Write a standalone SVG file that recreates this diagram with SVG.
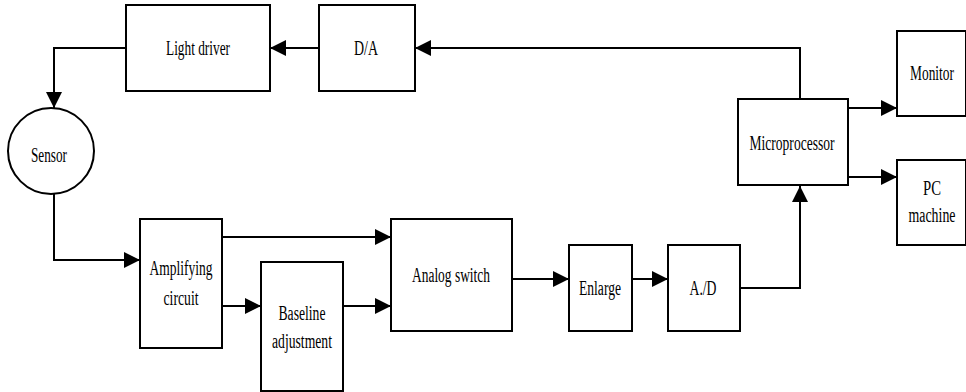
<svg xmlns="http://www.w3.org/2000/svg" width="966" height="392" viewBox="0 0 966 392">
<style>
.box{fill:#fff;stroke:#000;stroke-width:2}
.ln{fill:none;stroke:#000;stroke-width:2}
.t{font-family:'Liberation Serif','Times New Roman','DejaVu Serif',serif;font-size:20px;fill:#000;text-anchor:middle}
</style>
<defs>
<marker id="ah" markerUnits="userSpaceOnUse" markerWidth="16" markerHeight="16" refX="16" refY="8" orient="auto">
<path d="M0,0 L16,8 L0,16 z" fill="#000"/>
</marker>
</defs>
<g id="connectors">
<path class="ln" d="M800,99 V48 H415" marker-end="url(#ah)"/>
<path class="ln" d="M319,48 H270" marker-end="url(#ah)"/>
<path class="ln" d="M126,48 H54 V108" marker-end="url(#ah)"/>
<path class="ln" d="M54,193 V260 H140" marker-end="url(#ah)"/>
<path class="ln" d="M222,237 H391" marker-end="url(#ah)"/>
<path class="ln" d="M222,306 H261" marker-end="url(#ah)"/>
<path class="ln" d="M343,306 H391" marker-end="url(#ah)"/>
<path class="ln" d="M512,279 H569" marker-end="url(#ah)"/>
<path class="ln" d="M632,279 H668" marker-end="url(#ah)"/>
<path class="ln" d="M738,288 H800 V186" marker-end="url(#ah)"/>
<path class="ln" d="M848,108 H897" marker-end="url(#ah)"/>
<path class="ln" d="M848,177 H897" marker-end="url(#ah)"/>
</g>
<g id="light-driver"><rect class="box" x="126" y="5" width="144" height="86"/><text class="t" x="198" y="55" textLength="64" lengthAdjust="spacingAndGlyphs">Light driver</text></g>
<g id="da"><rect class="box" x="319" y="5" width="96" height="86"/><text class="t" x="366" y="55" textLength="24" lengthAdjust="spacingAndGlyphs">D/A</text></g>
<g id="sensor"><circle class="box" cx="51" cy="151" r="43"/><text class="t" x="49" y="162" textLength="36" lengthAdjust="spacingAndGlyphs">Sensor</text></g>
<g id="amplifying"><rect class="box" x="140" y="219" width="82" height="129"/><text class="t" x="181" y="275" textLength="63" lengthAdjust="spacingAndGlyphs">Amplifying</text><text class="t" x="181" y="305" textLength="35" lengthAdjust="spacingAndGlyphs">circuit</text></g>
<g id="baseline"><rect class="box" x="261" y="262" width="82" height="129"/><text class="t" x="302" y="320" textLength="47" lengthAdjust="spacingAndGlyphs">Baseline</text><text class="t" x="302" y="348" textLength="60" lengthAdjust="spacingAndGlyphs">adjustment</text></g>
<g id="analog-switch"><rect class="box" x="391" y="219" width="121" height="112"/><text class="t" x="451" y="282" textLength="78" lengthAdjust="spacingAndGlyphs">Analog switch</text></g>
<g id="enlarge"><rect class="box" x="569" y="245" width="63" height="86"/><text class="t" x="600" y="295" textLength="42" lengthAdjust="spacingAndGlyphs">Enlarge</text></g>
<g id="ad"><rect class="box" x="668" y="245" width="72" height="86"/><text class="t" x="703" y="295" textLength="27" lengthAdjust="spacingAndGlyphs">A./D</text></g>
<g id="microprocessor"><rect class="box" x="738" y="99" width="110" height="86"/><text class="t" x="792" y="150" textLength="85" lengthAdjust="spacingAndGlyphs">Microprocessor</text></g>
<g id="monitor"><rect class="box" x="897" y="31" width="69" height="85"/><text class="t" x="932" y="80" textLength="44" lengthAdjust="spacingAndGlyphs">Monitor</text></g>
<g id="pc-machine"><rect class="box" x="897" y="160" width="69" height="85"/><text class="t" x="932" y="195" textLength="18" lengthAdjust="spacingAndGlyphs">PC</text><text class="t" x="932" y="222" textLength="47" lengthAdjust="spacingAndGlyphs">machine</text></g>
</svg>
